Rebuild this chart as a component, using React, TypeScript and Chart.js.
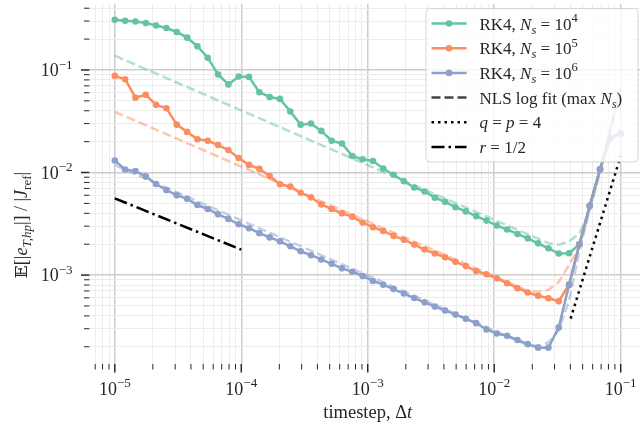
import React, { useEffect, useRef } from "react";
import { Chart, registerables } from "chart.js";

Chart.register(...registerables);

// Timesteps (log-spaced grid, 1e-5 … 1e-1)
const timesteps = [
  1.0e-5, 1.2068e-5, 1.4563e-5, 1.7575e-5, 2.121e-5, 2.5595e-5, 3.0888e-5, 3.7276e-5, 4.4984e-5, 5.4287e-5,
  6.5513e-5, 7.906e-5, 9.541e-5, 1.1514e-4, 1.3895e-4, 1.6768e-4, 2.0236e-4, 2.4421e-4, 2.9471e-4, 3.5565e-4,
  4.2919e-4, 5.1795e-4, 6.2506e-4, 7.5431e-4, 9.103e-4, 1.0985e-3, 1.3257e-3, 1.5999e-3, 1.9307e-3, 2.33e-3,
  2.8118e-3, 3.3932e-3, 4.0949e-3, 4.9417e-3, 5.9636e-3, 7.1969e-3, 8.6851e-3, 1.0481e-2, 1.2649e-2, 1.5264e-2,
  1.8421e-2, 2.223e-2, 2.6827e-2, 3.2375e-2, 3.9069e-2, 4.7149e-2, 5.6898e-2, 6.8665e-2, 8.2864e-2, 1.0e-1,
];

// Mean relative error, RK4, N_s = 1e4
const errNs1e4 = [
  0.308, 0.3015, 0.2969, 0.2865, 0.2716, 0.2563, 0.2346, 0.2066, 0.1703, 0.1317,
  0.0903, 0.0723, 0.0864, 0.0856, 0.0606, 0.0545, 0.0522, 0.0394, 0.0293, 0.0301,
  0.02547, 0.0204, 0.01921, 0.01449, 0.01346, 0.01297, 0.01095, 0.0095, 0.00821, 0.00715,
  0.00654, 0.00569, 0.00518, 0.00459, 0.00418, 0.003756, 0.003398, 0.003041, 0.002782, 0.002518,
  0.002279, 0.00204, 0.001825, 0.001623, 0.001634, 0.001995, 0.00474, 0.01078, 0.02195, 0.02399,
];

// Mean relative error, RK4, N_s = 1e5
const errNs1e5 = [
  0.0875, 0.0813, 0.0537, 0.0574, 0.0457, 0.0424, 0.0293, 0.0249, 0.02113, 0.0204,
  0.0185, 0.01656, 0.01386, 0.01187, 0.01086, 0.00923, 0.00769, 0.00728, 0.00636, 0.00573,
  0.00488, 0.00441, 0.004, 0.003715, 0.003251, 0.002929, 0.002692, 0.002409, 0.002214, 0.001982,
  0.001773, 0.001623, 0.001494, 0.001346, 0.001224, 0.001095, 0.001018, 0.000931, 0.000833, 0.000746,
  0.000677, 0.000629, 0.000595, 0.000556, 0.000811, 0.001995, 0.00474, 0.01078, 0.02195, 0.02399,
];

// Mean relative error, RK4, N_s = 1e6
const errNs1e6 = [
  0.01309, 0.01071, 0.01032, 0.00917, 0.00773, 0.00674, 0.00601, 0.00554, 0.00482, 0.00441,
  0.00391, 0.00353, 0.00313, 0.002865, 0.002563, 0.00233, 0.002132, 0.001908, 0.001707, 0.001562,
  0.00142, 0.001288, 0.001163, 0.001078, 0.00098, 0.000877, 0.000806, 0.00073, 0.000661, 0.000597,
  0.000542, 0.000493, 0.000451, 0.000412, 0.000375, 0.00034, 0.000295, 0.000269, 0.000256, 0.000233,
  0.000212, 0.000196, 0.000196, 0.000309, 0.000802, 0.001995, 0.00474, 0.01078, 0.02195, 0.02399,
];

// NLS log fits, sampled at these timestep indices
const fitIdx = [0, 20, 36, 40, 41, 42, 43, 44, 45, 46, 47, 48, 49];
const fitNs1e4 = [0.1377, 0.01854, 0.003731, 0.002502, 0.002262, 0.002049, 0.001973, 0.002132, 0.002547, 0.004244, 0.01009, 0.02621, 0.0666];
const fitNs1e5 = [0.03911, 0.005241, 0.00105, 0.000703, 0.000687, 0.000718, 0.000858, 0.001252, 0.001908, 0.004437, 0.01055, 0.02621, 0.0666];
const fitNs1e6 = [0.01179, 0.001562, 0.00031, 0.000207, 0.000203, 0.000221, 0.000289, 0.000563, 0.001707, 0.004338, 0.01078, 0.02621, 0.0666];

// Reference slopes
const orderRefDt = [0.0402, 0.1];
const orderRefErr = [3.77e-4, 0.01452];
const rateRefDt = [1e-5, 1e-4];
const rateRefErr = [5.6e-3, 1.77e-3];

// Labelled decades
const xDecades = [-5, -4, -3, -2, -1];
const yDecades = [-3, -2, -1];

const GREEN = "#66c2a5";
const ORANGE = "#fc8d62";
const BLUE = "#8da0cb";
const FONT = '"Liberation Serif", "DejaVu Serif", serif';

type Run = { t: string; size?: number; italic?: boolean; dy?: number; family?: string };

function runFont(r: Run, base: number) {
  return `${r.italic ? "italic " : ""}${r.size ?? base}px ${r.family ?? FONT}`;
}

function drawRuns(ctx: CanvasRenderingContext2D, runs: Run[], x: number, y: number, align: "left" | "right" | "center", base: number) {
  let total = 0;
  for (const r of runs) {
    ctx.font = runFont(r, base);
    total += ctx.measureText(r.t).width;
  }
  let cx = align === "left" ? x : align === "right" ? x - total : x - total / 2;
  ctx.textBaseline = "alphabetic";
  ctx.textAlign = "left";
  for (const r of runs) {
    ctx.font = runFont(r, base);
    ctx.fillText(r.t, cx, y + (r.dy ?? 0));
    cx += ctx.measureText(r.t).width;
  }
}

function pow10Runs(e: number): Run[] {
  return [{ t: "10" }, { t: `\u2212${-e}`, size: 13, dy: -7.5 }];
}

function logTicks(min: number, max: number) {
  const ticks: { value: number; major: boolean }[] = [];
  for (let e = Math.floor(Math.log10(min)); e <= Math.ceil(Math.log10(max)); e++) {
    for (let m = 1; m <= 9; m++) {
      const v = m * Math.pow(10, e);
      if (v >= min * 0.9999 && v <= max * 1.0001) ticks.push({ value: v, major: m === 1 });
    }
  }
  return ticks;
}

const nsRuns = (exp: string): Run[] => [
  { t: "RK4, " },
  { t: "N", italic: true },
  { t: "s", italic: true, size: 12.5, dy: 4 },
  { t: " = 10" },
  { t: exp, size: 12.5, dy: -7.5 },
];

type LegendItem = { color: string; dash: number[]; marker: boolean; runs: Run[] };
const legendItems: LegendItem[] = [
  { color: GREEN, dash: [], marker: true, runs: nsRuns("4") },
  { color: ORANGE, dash: [], marker: true, runs: nsRuns("5") },
  { color: BLUE, dash: [], marker: true, runs: nsRuns("6") },
  {
    color: "#444444", dash: [9, 4], marker: false,
    runs: [{ t: "NLS log fit (max " }, { t: "N", italic: true }, { t: "s", italic: true, size: 12.5, dy: 4 }, { t: ")" }],
  },
  {
    color: "#000000", dash: [2.5, 4], marker: false,
    runs: [{ t: "q", italic: true }, { t: " = " }, { t: "p", italic: true }, { t: " = 4" }],
  },
  {
    color: "#000000", dash: [13, 4, 2.5, 4], marker: false,
    runs: [{ t: "r", italic: true }, { t: " = 1/2" }],
  },
];

function drawLegend(ctx: CanvasRenderingContext2D) {
  const x0 = 426, y0 = 8.5, w = 212, h = 153.5;
  ctx.save();
  ctx.beginPath();
  ctx.roundRect(x0, y0, w, h, 4);
  ctx.fillStyle = "rgba(255,255,255,0.8)";
  ctx.fill();
  ctx.strokeStyle = "rgba(204,204,204,0.8)";
  ctx.lineWidth = 1;
  ctx.stroke();
  legendItems.forEach((it, i) => {
    const cy = 23.5 + i * 24.7;
    ctx.strokeStyle = it.color;
    ctx.lineWidth = 2.5;
    ctx.setLineDash(it.dash);
    ctx.beginPath();
    ctx.moveTo(431.5, cy);
    ctx.lineTo(466.5, cy);
    ctx.stroke();
    ctx.setLineDash([]);
    if (it.marker) {
      ctx.fillStyle = it.color;
      ctx.beginPath();
      ctx.arc(449, cy, 3.3, 0, Math.PI * 2);
      ctx.fill();
    }
    ctx.fillStyle = "#262626";
    drawRuns(ctx, it.runs, 479.5, cy + 6, "left", 17);
  });
  ctx.restore();
}

function drawAxes(chart: Chart) {
  const { ctx, chartArea } = chart;
  const xs: any = chart.scales.x;
  const ys: any = chart.scales.y;
  ctx.save();
  ctx.strokeStyle = "#262626";
  for (const t of xs.ticks) {
    const px = xs.getPixelForValue(t.value);
    ctx.lineWidth = t.major ? 1.5 : 1;
    ctx.beginPath();
    ctx.moveTo(px, chartArea.bottom);
    ctx.lineTo(px, chartArea.bottom + (t.major ? 8.5 : 5.5));
    ctx.stroke();
  }
  for (const t of ys.ticks) {
    const py = ys.getPixelForValue(t.value);
    ctx.lineWidth = t.major ? 1.5 : 1;
    ctx.beginPath();
    ctx.moveTo(chartArea.left, py);
    ctx.lineTo(chartArea.left - (t.major ? 8.5 : 5.5), py);
    ctx.stroke();
  }
  ctx.fillStyle = "#262626";
  for (const e of xDecades) {
    const px = xs.getPixelForValue(Math.pow(10, e));
    drawRuns(ctx, pow10Runs(e), px, 394.5, "center", 18);
  }
  for (const e of yDecades) {
    const py = ys.getPixelForValue(Math.pow(10, e));
    drawRuns(ctx, pow10Runs(e), 72.5, py + 6.3, "right", 18);
  }
  // x-axis title
  drawRuns(ctx, [{ t: "timestep, \u0394" }, { t: "t", italic: true }], (chartArea.left + chartArea.right) / 2, 418, "center", 18.5);
  // y-axis title
  ctx.save();
  ctx.translate(26.5, 225);
  ctx.rotate(-Math.PI / 2);
  drawRuns(
    ctx,
    [
      { t: "\u{1D53C}", family: '"DejaVu Serif", "DejaVu Sans", serif', size: 17 },
      { t: "[|" },
      { t: "e", italic: true },
      { t: "T,hp", italic: true, size: 13, dy: 4 },
      { t: "|] / |" },
      { t: "J", italic: true },
      { t: "ref", size: 13, dy: 4 },
      { t: "|" },
    ],
    0, 0, "center", 18
  );
  ctx.restore();
  ctx.restore();
}

const decorations = {
  id: "decorations",
  afterDatasetsDraw(chart: Chart) {
    drawLegend(chart.ctx);
  },
  afterDraw(chart: Chart) {
    drawAxes(chart);
  },
};

const pts = (xsArr: number[], ysArr: number[]) => xsArr.map((x, i) => ({ x, y: ysArr[i] }));
const fitPts = (vals: number[]) => fitIdx.map((k, i) => ({ x: timesteps[k], y: vals[i] }));

const gridColor = (c: any) => (c.tick && c.tick.major ? "#cdcdcd" : "#ececec");
const gridWidth = (c: any) => (c.tick && c.tick.major ? 1.5 : 1);

export default function App() {
  const ref = useRef<HTMLCanvasElement | null>(null);
  useEffect(() => {
    if (!ref.current) return;
    const series = (label: string, vals: number[], color: string, order: number) => ({
      label,
      data: pts(timesteps, vals),
      showLine: true,
      borderColor: color,
      backgroundColor: color,
      borderWidth: 2.5,
      pointRadius: 3.3,
      pointBorderWidth: 0,
      order,
    });
    const fit = (vals: number[], rgba: string, order: number) => ({
      label: "fit",
      data: fitPts(vals),
      showLine: true,
      borderColor: rgba,
      borderWidth: 2.5,
      borderDash: [9, 4],
      pointRadius: 0,
      order,
    });
    const chart = new Chart(ref.current, {
      type: "scatter",
      data: {
        datasets: [
          series("RK4, Ns=1e6", errNs1e6, BLUE, 0),
          series("RK4, Ns=1e5", errNs1e5, ORANGE, 1),
          series("RK4, Ns=1e4", errNs1e4, GREEN, 2),
          fit(fitNs1e6, "rgba(141,160,203,0.5)", 3),
          fit(fitNs1e5, "rgba(252,141,98,0.5)", 4),
          fit(fitNs1e4, "rgba(102,194,165,0.5)", 5),
          {
            label: "q=p=4",
            data: pts(orderRefDt, orderRefErr),
            showLine: true,
            borderColor: "#000",
            borderWidth: 2.5,
            borderDash: [2.5, 4],
            pointRadius: 0,
            order: 6,
          },
          {
            label: "r=1/2",
            data: pts(rateRefDt, rateRefErr),
            showLine: true,
            borderColor: "#000",
            borderWidth: 2.5,
            borderDash: [13, 4, 2.5, 4],
            pointRadius: 0,
            order: 7,
          },
        ] as any,
      },
      options: {
        responsive: false,
        animation: false,
        devicePixelRatio: 1,
        layout: { padding: 0 },
        plugins: { legend: { display: false }, tooltip: { enabled: false } },
        scales: {
          x: {
            type: "logarithmic",
            min: Math.pow(10, -5.2),
            max: Math.pow(10, -0.8),
            border: { display: false },
            grid: { drawTicks: false, color: gridColor, lineWidth: gridWidth },
            ticks: { display: false },
            afterBuildTicks: (s: any) => {
              s.ticks = logTicks(s.min, s.max);
            },
            afterFit: (s: any) => {
              s.height = 64;
            },
          },
          y: {
            type: "logarithmic",
            min: Math.pow(10, -3.867),
            max: Math.pow(10, -0.3568),
            border: { display: false },
            grid: { drawTicks: false, color: gridColor, lineWidth: gridWidth },
            ticks: { display: false },
            afterBuildTicks: (s: any) => {
              s.ticks = logTicks(s.min, s.max);
            },
            afterFit: (s: any) => {
              s.width = 89.5;
            },
          },
        },
      } as any,
      plugins: [decorations],
    });
    return () => chart.destroy();
  }, []);
  return (
    <div style={{ position: "fixed", left: 0, top: 0, width: 640, height: 428, overflow: "hidden", background: "#fff" }}>
      <canvas ref={ref} width={650} height={428} style={{ display: "block", width: 650, height: 428 }} />
    </div>
  );
}
